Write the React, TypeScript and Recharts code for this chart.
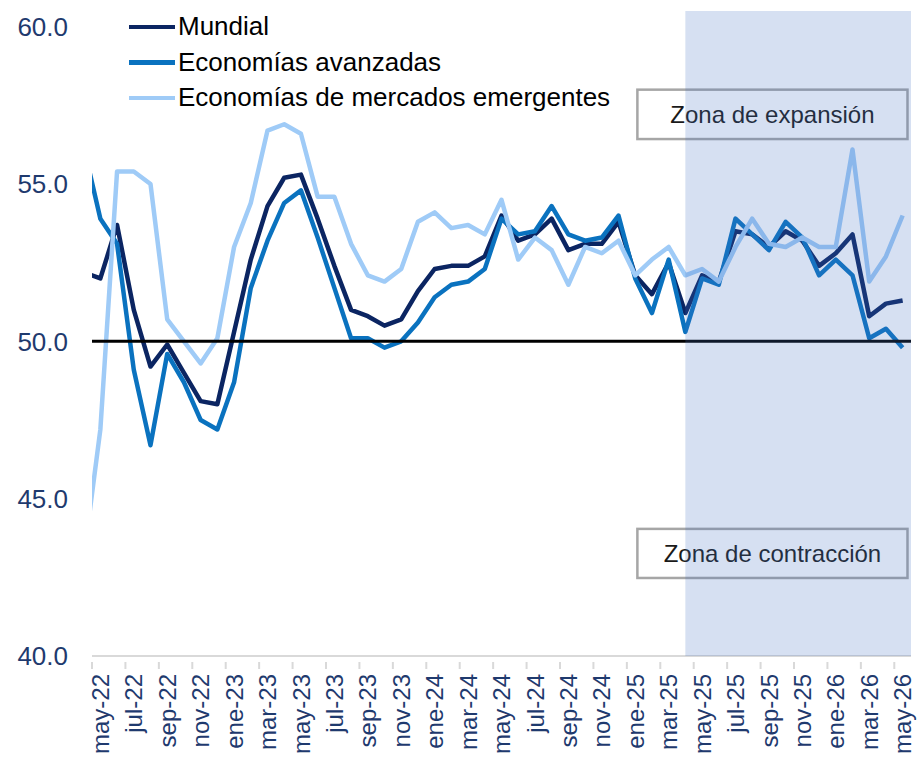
import React from "react";
import { LineChart, Line, XAxis, YAxis, ReferenceArea, ReferenceLine } from "recharts";

// abr-22 .. may-26 (the first month only shows as a clipped segment at the left edge)
const meses = [
  "abr-22", "may-22", "jun-22", "jul-22", "ago-22", "sep-22", "oct-22", "nov-22", "dic-22",
  "ene-23", "feb-23", "mar-23", "abr-23", "may-23", "jun-23", "jul-23", "ago-23", "sep-23", "oct-23", "nov-23", "dic-23",
  "ene-24", "feb-24", "mar-24", "abr-24", "may-24", "jun-24", "jul-24", "ago-24", "sep-24", "oct-24", "nov-24", "dic-24",
  "ene-25", "feb-25", "mar-25", "abr-25", "may-25", "jun-25", "jul-25", "ago-25", "sep-25", "oct-25", "nov-25", "dic-25",
  "ene-26", "feb-26", "mar-26", "abr-26", "may-26",
];

const mundial = [
  52.2, 52.0, 53.7, 51.0, 49.2, 49.9, 49.0, 48.1, 48.0,
  50.3, 52.6, 54.3, 55.2, 55.3, 53.9, 52.4, 51.0, 50.8, 50.5, 50.7, 51.6,
  52.3, 52.4, 52.4, 52.7, 54.0, 53.2, 53.4, 53.9, 52.9, 53.1, 53.1, 53.8,
  52.1, 51.5, 52.5, 50.9, 52.1, 51.9, 53.5, 53.4, 53.0, 53.5, 53.2, 52.4,
  52.8, 53.4, 50.8, 51.2, 51.3,
];

const avanzadas = [
  56.2, 53.9, 53.1, 49.1, 46.7, 49.6, 48.7, 47.5, 47.2,
  48.7, 51.7, 53.2, 54.4, 54.8, 53.3, 51.7, 50.1, 50.1, 49.8, 50.0, 50.6,
  51.4, 51.8, 51.9, 52.3, 53.9, 53.4, 53.5, 54.3, 53.4, 53.2, 53.3, 54.0,
  52.0, 50.9, 52.6, 50.3, 52.0, 51.8, 53.9, 53.4, 52.9, 53.8, 53.3, 52.1,
  52.6, 52.1, 50.1, 50.4, 49.8,
];

const emergentes = [
  43.1, 47.2, 55.4, 55.4, 55.0, 50.7, 50.0, 49.3, 50.1,
  53.0, 54.4, 56.7, 56.9, 56.6, 54.6, 54.6, 53.1, 52.1, 51.9, 52.3, 53.8,
  54.1, 53.6, 53.7, 53.4, 54.5, 52.6, 53.3, 52.9, 51.8, 53.0, 52.8, 53.2,
  52.1, 52.6, 53.0, 52.1, 52.3, 51.9, 53.0, 53.9, 53.1, 53.0, 53.3, 53.0,
  53.0, 56.1, 51.9, 52.7, 54.0,
];

const yTicks = [40, 45, 50, 55, 60];
const xTicks = Array.from({ length: 25 }, (_, k) => k * 2);

const series = [
  { key: "mundial", name: "Mundial", color: "#0b2562" },
  { key: "avanzadas", name: "Economías avanzadas", color: "#0a72bf" },
  { key: "emergentes", name: "Economías de mercados emergentes", color: "#9fcbf7" },
];

const rows = meses.map((mes, i) => ({
  idx: i - 1,
  mes,
  mundial: mundial[i],
  avanzadas: avanzadas[i],
  emergentes: emergentes[i],
}));

const W = 919;
const H = 757;
const LEFT = 92;
const RIGHT = 8;
const HALF_BAND = (W - LEFT - RIGHT) / 49 / 2;
const NAVY = "#1f3a6e";
const FONT = "'Liberation Sans', Arial, sans-serif";

function MonthTick(props: any) {
  const { x, y, payload } = props;
  const row = rows.find((r) => r.idx === payload.value);
  return (
    <g>
      <line x1={x - HALF_BAND} x2={x - HALF_BAND} y1={y} y2={y + 7} stroke="#d9d9d9" strokeWidth={2} />
      <text
        x={x}
        y={y + 12}
        dy="0.36em"
        textAnchor="end"
        transform={`rotate(-90 ${x} ${y + 12})`}
        fontSize={24}
        fill={NAVY}
      >
        {row ? row.mes : ""}
      </text>
    </g>
  );
}

function zoneBox(text: string) {
  return (p: any) => (
    <g>
      <rect x={p.x} y={p.y} width={p.width} height={p.height} fill="#ffffff" stroke="#a6a6a6" strokeWidth={2.5} />
      <text
        x={p.x + p.width / 2}
        y={p.y + p.height / 2}
        dy="0.35em"
        textAnchor="middle"
        fontSize={24}
        fill="#1a1a1a"
      >
        {text}
      </text>
    </g>
  );
}

export default function App() {
  return (
    <div style={{ position: "absolute", left: 0, top: 0, width: W, height: H, fontFamily: FONT, background: "#fff" }}>
      <LineChart width={W} height={H} data={rows} margin={{ top: 11, right: RIGHT, bottom: 0, left: 0 }}>
        <XAxis
          type="number"
          dataKey="idx"
          domain={[-0.5, 48.5]}
          allowDataOverflow
          ticks={xTicks}
          interval={0}
          height={101}
          tickLine={false}
          tickMargin={0}
          axisLine={{ stroke: "#d9d9d9", strokeWidth: 2 }}
          tick={<MonthTick />}
        />
        <YAxis
          type="number"
          domain={[40, 60.5]}
          ticks={yTicks}
          interval={0}
          width={LEFT}
          axisLine={false}
          tickLine={false}
          tickMargin={18}
          tickFormatter={(v: number) => v.toFixed(1)}
          tick={{ fontSize: 26, fill: NAVY }}
        />
        {series.map((s) => (
          <Line
            key={s.key}
            type="linear"
            dataKey={s.key}
            name={s.name}
            stroke={s.color}
            strokeWidth={4.5}
            strokeLinejoin="round"
            dot={false}
            activeDot={false}
            isAnimationActive={false}
          />
        ))}
        <ReferenceLine y={50} stroke="#000" strokeWidth={3} zIndex={1450} />
        <ReferenceArea x1={32.13} x2={48.29} y1={56.43} y2={58.0} zIndex={1500} shape={zoneBox("Zona de expansión")} />
        <ReferenceArea x1={32.13} x2={48.29} y1={42.48} y2={44.04} zIndex={1500} shape={zoneBox("Zona de contracción")} />
        <ReferenceArea x1={35} x2={48.5} fill="#4472c4" fillOpacity={0.22} stroke="none" zIndex={1600} />
      </LineChart>
      <div style={{ position: "absolute", left: 129, top: 9, lineHeight: "35.5px", fontSize: 26, color: "#000" }}>
        {series.map((s) => (
          <div key={s.key} style={{ display: "flex", alignItems: "center", height: 35.5 }}>
            <span style={{ display: "inline-block", width: 46, height: 4.5, background: s.color, marginRight: 3 }} />
            <span>{s.name}</span>
          </div>
        ))}
      </div>
    </div>
  );
}
